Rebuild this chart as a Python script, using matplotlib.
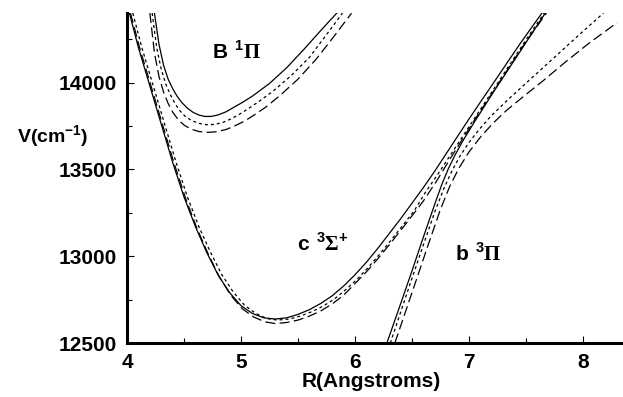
import matplotlib
matplotlib.use('Agg')
import matplotlib.pyplot as plt
from matplotlib.ticker import MultipleLocator

plt.rcParams['font.family'] = ['Liberation Sans', 'DejaVu Sans']
plt.rcParams['font.weight'] = 'bold'
plt.rcParams['mathtext.fontset'] = 'custom'
plt.rcParams['mathtext.rm'] = 'Liberation Serif:bold'
plt.rcParams['mathtext.sf'] = 'Liberation Sans:bold'
plt.rcParams['mathtext.bf'] = 'Liberation Sans:bold'

# B 1Pi state
B_solid_r = [4.24, 4.28, 4.32, 4.36, 4.40, 4.44, 4.48, 4.53, 4.58, 4.63, 4.68, 4.74, 4.80, 4.87,
             4.93, 5.01, 5.10, 5.25, 5.40, 5.55, 5.70, 5.84]
B_solid_v = [14400, 14220, 14100, 14020, 13965, 13920, 13885, 13852, 13828, 13813, 13805, 13805, 13814, 13832,
             13855, 13885, 13922, 13995, 14085, 14190, 14300, 14400]
B_dot_r = [4.22, 4.26, 4.30, 4.34, 4.38, 4.42, 4.46, 4.51, 4.57, 4.63, 4.70, 4.77, 4.84, 4.91,
           4.98, 5.06, 5.15, 5.28, 5.44, 5.60, 5.76, 5.89]
B_dot_v = [14400, 14200, 14075, 13990, 13930, 13880, 13840, 13805, 13780, 13765, 13757, 13759, 13770, 13790,
           13815, 13848, 13888, 13950, 14040, 14145, 14285, 14400]
B_dash_r = [4.20, 4.24, 4.28, 4.32, 4.36, 4.40, 4.45, 4.50, 4.56, 4.63, 4.71, 4.79, 4.87, 4.95,
            5.03, 5.12, 5.22, 5.35, 5.50, 5.66, 5.82, 5.97]
B_dash_v = [14400, 14170, 14035, 13945, 13880, 13830, 13785, 13755, 13732, 13718, 13713, 13717, 13730, 13752,
            13778, 13815, 13860, 13930, 14020, 14135, 14270, 14400]

# c 3Sigma+ state
c_solid_r = [4.02, 4.10, 4.20, 4.30, 4.40, 4.50, 4.60, 4.70, 4.80, 4.90, 5.00, 5.10, 5.20, 5.30,
             5.40, 5.50, 5.60, 5.70, 5.80, 5.90, 6.00, 6.10, 6.20, 6.30, 6.40, 6.50, 6.60, 6.70,
             6.80, 6.90, 7.00, 7.15, 7.30, 7.45, 7.64]
c_solid_v = [14400, 14200, 13980, 13760, 13540, 13340, 13170, 13020, 12890, 12790, 12715, 12670, 12645, 12638,
             12645, 12665, 12692, 12728, 12772, 12828, 12893, 12965, 13045, 13130, 13215, 13305, 13395, 13490,
             13590, 13690, 13790, 13935, 14080, 14225, 14400]
c_dot_r = [4.05, 4.13, 4.23, 4.33, 4.43, 4.53, 4.63, 4.73, 4.83, 4.93, 5.03, 5.13, 5.23, 5.32,
           5.42, 5.52, 5.62, 5.72, 5.82, 5.92, 6.02, 6.12, 6.22, 6.32, 6.42, 6.52, 6.62, 6.72,
           6.82, 6.92, 7.05, 7.20, 7.35, 7.50, 7.66]
c_dot_v = [14400, 14200, 13980, 13760, 13540, 13340, 13170, 13025, 12895, 12795, 12718, 12670, 12640, 12632,
           12638, 12655, 12680, 12712, 12754, 12808, 12868, 12938, 13015, 13095, 13178, 13262, 13370, 13465,
           13565, 13665, 13795, 13945, 14095, 14245, 14400]
c_dash_r = [4.03, 4.11, 4.21, 4.31, 4.41, 4.51, 4.61, 4.71, 4.81, 4.91, 5.01, 5.11, 5.21, 5.30,
            5.40, 5.50, 5.60, 5.70, 5.80, 5.90, 6.00, 6.10, 6.20, 6.30, 6.40, 6.50, 6.60, 6.72,
            6.82, 6.92, 7.05, 7.20, 7.35, 7.50, 7.68]
c_dash_v = [14400, 14200, 13980, 13760, 13540, 13340, 13165, 13015, 12880, 12775, 12698, 12650, 12622, 12612,
            12618, 12632, 12655, 12685, 12725, 12775, 12842, 12910, 12985, 13065, 13148, 13232, 13318, 13437,
            13545, 13650, 13785, 13935, 14085, 14235, 14400]

# b 3Pi state
b_solid_r = [6.28, 6.40, 6.50, 6.60, 6.70, 6.76, 6.82, 6.88, 6.95, 7.05, 7.20, 7.35, 7.50, 7.67]
b_solid_v = [12500, 12725, 12915, 13110, 13300, 13410, 13505, 13585, 13668, 13775, 13930, 14080, 14230, 14400]
b_dot_r = [6.31, 6.45, 6.60, 6.70, 6.78, 6.85, 6.92, 7.00, 7.09, 7.19, 7.34, 7.54, 7.75, 7.95, 8.18]
b_dot_v = [12500, 12775, 13065, 13255, 13390, 13490, 13575, 13655, 13730, 13805, 13900, 14020, 14145, 14265, 14400]
b_dash_r = [6.35, 6.50, 6.65, 6.75, 6.83, 6.91, 7.00, 7.10, 7.21, 7.33, 7.46, 7.65, 7.85, 8.05, 8.30]
b_dash_v = [12500, 12790, 13080, 13270, 13400, 13505, 13600, 13685, 13765, 13840, 13910, 14010, 14120, 14225, 14345]

fig = plt.figure(figsize=(6.23, 3.97), dpi=100)
ax = fig.add_axes([0.204, 0.136, 0.792, 0.831])

lw = 0.9
dot = (2.4, 2.4)
dash = (8, 3.5)
for r, v, d in [(B_solid_r, B_solid_v, None), (B_dot_r, B_dot_v, dot), (B_dash_r, B_dash_v, dash),
                (c_solid_r, c_solid_v, None), (c_dot_r, c_dot_v, dot), (c_dash_r, c_dash_v, dash),
                (b_solid_r, b_solid_v, None), (b_dot_r, b_dot_v, dot), (b_dash_r, b_dash_v, dash)]:
    line, = ax.plot(r, v, color='black', lw=lw)
    if d is not None:
        line.set_dashes(d)

ax.set_xlim(4, 8.33)
ax.set_ylim(12500, 14400)

ax.spines['top'].set_visible(False)
ax.spines['right'].set_visible(False)
ax.spines['left'].set_linewidth(2.2)
ax.spines['bottom'].set_linewidth(2.2)

ax.xaxis.set_major_locator(MultipleLocator(1))
ax.xaxis.set_minor_locator(MultipleLocator(0.5))
ax.yaxis.set_major_locator(MultipleLocator(500))
ax.yaxis.set_minor_locator(MultipleLocator(250))
ax.tick_params(which='major', direction='in', length=5, width=0.8, labelsize=15, pad=7)
ax.tick_params(which='minor', direction='in', length=3.5, width=0.8)
for lab in ax.get_xticklabels() + ax.get_yticklabels():
    lab.set_fontweight('bold')

fig.text(0.028, 0.655, r'V(cm$^{\mathsf{-1}}$)', fontsize=14, fontweight='bold', va='center', ha='left')
fig.text(0.596, 0.038, 'R(Angstroms)', fontsize=15, fontweight='bold', va='center', ha='center')

ax.text(4.96, 14180, r'$\mathsf{B}\ {}^{\mathsf{1}}\Pi$', fontsize=15, ha='center', va='center')
ax.text(5.72, 13075, r'$\mathsf{c}\ {}^{\mathsf{3}}\Sigma^{\mathsf{+}}$', fontsize=15, ha='center', va='center')
ax.text(7.08, 13015, r'$\mathsf{b}\ {}^{\mathsf{3}}\Pi$', fontsize=15, ha='center', va='center')

fig.savefig('out.png', dpi=100)
